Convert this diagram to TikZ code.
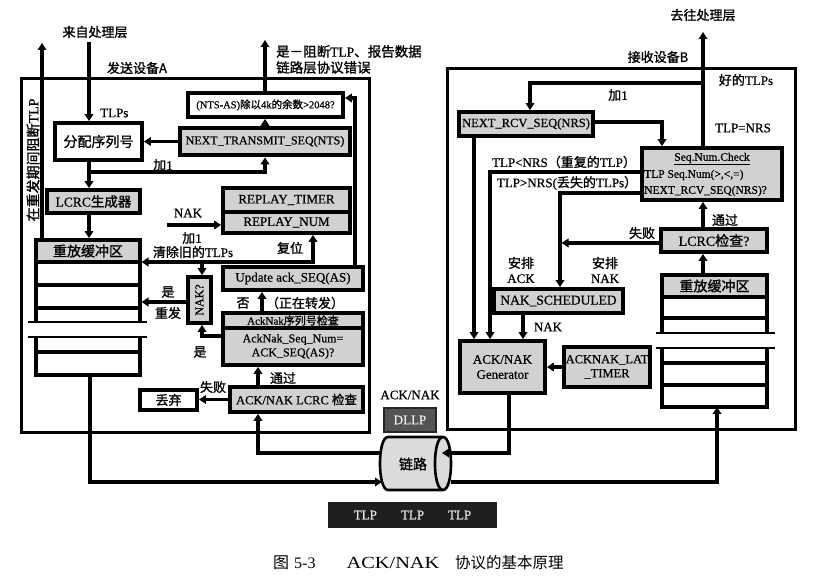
\documentclass[tikz,border=0pt]{standalone}
\usepackage{fontspec}
\setmainfont{Liberation Serif}[FakeBold=0.6]
\newfontfamily\cjk{Noto Sans CJK SC}[FakeBold=1.2]
\newfontfamily\capcjk{Noto Sans CJK SC}
\newfontfamily\capfont{Liberation Serif}
\newcommand{\zh}[1]{{\cjk #1}}
\newcommand{\fs}[2]{\fontsize{#1}{#2}\selectfont}
\usetikzlibrary{arrows.meta}
\definecolor{boxgray}{gray}{0.82}
\definecolor{dllpfill}{gray}{0.33}
\definecolor{linkfill}{gray}{0.86}
\definecolor{barfill}{gray}{0.12}
\begin{document}
\begin{tikzpicture}[x=1pt,y=-1pt,
  every node/.style={font=\fs{13}{15}},
  outer/.style={draw, line width=3pt, inner sep=0pt},
  gbox/.style={draw, line width=3.8pt, fill=boxgray, inner sep=1pt},
  wbox/.style={gbox, fill=white},
  lbl/.style={inner sep=0pt},
  arr/.style={line width=3.2pt, -{Triangle[length=7pt,width=8.5pt]}},
  darr/.style={line width=3.2pt, {Triangle[length=7pt,width=8.5pt]}-{Triangle[length=7pt,width=8.5pt]}},
  buf/.style={line width=3.3pt},
  thinbuf/.style={line width=2.2pt},
]
\useasboundingbox[fill=white] (0,0) rectangle (820,577);

% ---------------- outer device boxes
\node[outer, minimum width=348pt, minimum height=354pt] (devA) at (195,256) {};
\node[outer, minimum width=348pt, minimum height=361pt] (devB) at (621,249.5) {};

% ---------------- sender A nodes
\node[wbox, minimum width=87pt, minimum height=37pt, font=\fs{14}{16}] (assign) at (98.5,141.5) {\zh{分配序列号}};
\node[gbox, line width=4.8pt, minimum width=170pt, minimum height=27pt, font=\fs{12}{14}] (nts) at (265,141.5) {NEXT\_TRANSMIT\_SEQ(NTS)};
\node[wbox, minimum width=155pt, minimum height=24pt, font=\fs{10.5}{12}] (ntsas) at (265.5,105) {(NTS-AS)\zh{除以}4k\zh{的余数}>2048?};
\node[gbox, minimum width=93pt, minimum height=23pt, font=\fs{13.5}{15}] (lcrcgen) at (93.5,201.5) {LCRC\zh{生成器}};
\node[gbox, minimum width=127pt, minimum height=24pt, font=\fs{13}{15}] (rtimer) at (286.5,200) {REPLAY\_TIMER};
\node[gbox, minimum width=127pt, minimum height=21pt, font=\fs{13}{15}] (rnum) at (286.5,222.5) {REPLAY\_NUM};

% replay buffer A
\node[gbox, minimum width=104pt, minimum height=22pt, font=\fs{14}{16}] (bufA) at (88,251) {\zh{重放缓冲区}};
\draw[buf] (36,262) -- (36,322) (140,262) -- (140,322)
           (36,285) -- (140,285) (36,308) -- (140,308)
           (36,337) -- (36,375) -- (140,375) -- (140,337)
           (36,352) -- (140,352);
\draw[thinbuf] (28,322) -- (147,322) (28,337) -- (147,337);
\coordinate (bufAbot) at (90,375);

\node[gbox, minimum width=23pt, minimum height=46pt] (nakq) at (199.5,300) {};
\node[lbl, rotate=90, font=\fs{12}{14}] (nakqt) at (nakq.center) {NAK?};
\node[gbox, minimum width=140pt, minimum height=23pt, font=\fs{13}{15}] (update) at (293,278.5) {Update ack\_SEQ(AS)};
\node[gbox, minimum width=140pt, minimum height=15pt, font=\fs{11}{12}] (akhead) at (293,320.5) {AckNak\zh{序列号检查}};
\node[gbox, minimum width=140pt, minimum height=37pt, align=center, font=\fs{12}{14}] (akbody) at (293,346.5) {AckNak\_Seq\_Num=\\ACK\_SEQ(AS)?};
\node[gbox, minimum width=133pt, minimum height=25pt, font=\fs{12.5}{14}] (lcrcchk) at (296.5,399.5) {ACK/NAK LCRC \zh{检查}};
\node[wbox, minimum width=57pt, minimum height=20pt, font=\fs{13}{15}] (drop) at (168.5,400) {\zh{丢弃}};

% ---------------- receiver B nodes
\node[gbox, minimum width=134pt, minimum height=24pt, font=\fs{12.5}{14}] (nrs) at (526,124) {NEXT\_RCV\_SEQ(NRS)};
\node[gbox, minimum width=140pt, minimum height=52pt] (seq) at (712,174) {};
\node[lbl, font=\fs{11.5}{13}] (seqt1) at (712,159) {\underline{Seq.Num.Check}};
\node[lbl, anchor=west, font=\fs{11.5}{13}] (seqt2) at (644,175) {TLP Seq.Num(>,<,=)};
\node[lbl, anchor=west, font=\fs{11.5}{13}] (seqt3) at (644,191) {NEXT\_RCV\_SEQ(NRS)?};
\node[gbox, minimum width=106pt, minimum height=23pt, font=\fs{14}{16}] (lcrcB) at (714,240.5) {LCRC\zh{检查}?};
\node[gbox, minimum width=129pt, minimum height=24pt, font=\fs{13.5}{15}] (naksch) at (558.5,301) {NAK\_SCHEDULED};
\node[gbox, minimum width=85pt, minimum height=52pt, align=center, font=\fs{13}{15}] (gen) at (502.5,367) {ACK/NAK\\Generator};
\node[gbox, minimum width=86pt, minimum height=40pt, align=center, font=\fs{12.5}{14}] (lat) at (607,367) {ACKNAK\_LAT\\\_TIMER};

% replay buffer B
\node[gbox, minimum width=105pt, minimum height=22pt, font=\fs{14}{16}] (bufB) at (714.5,286) {\zh{重放缓冲区}};
\draw[buf] (662,297) -- (662,333) (767,297) -- (767,333)
           (662,318) -- (767,318)
           (662,348) -- (662,407) -- (767,407) -- (767,348)
           (662,363) -- (767,363) (662,385) -- (767,385);
\draw[thinbuf] (656,333) -- (775,333) (656,348) -- (775,348);
\coordinate (bufBbot) at (717,407);

% ---------------- link, DLLP, TLP bar
\draw[line width=2.6pt, fill=linkfill]
  (388,437) -- (443,437) .. controls (453.7,437) and (453.7,490) .. (443,490)
  -- (388,490) .. controls (377.3,490) and (377.3,437) .. (388,437) -- cycle;
\draw[line width=2.6pt] (443,437) .. controls (432.3,437) and (432.3,490) .. (443,490);
\node[lbl, font=\fs{14}{16}] (link) at (413,464) {\zh{链路}};
\coordinate (linkLa) at (381,453);
\coordinate (linkLb) at (382,482);
\coordinate (linkRa) at (442,453);
\coordinate (linkRb) at (451,482);

\node[lbl] (acknaklbl) at (410,395) {ACK/NAK};
\node[draw=black!85, line width=2pt, fill=dllpfill, text=white!85!gray, minimum width=52pt, minimum height=24pt] (dllp) at (410,420) {DLLP};
\node[fill=barfill, minimum width=169pt, minimum height=26pt, text=white!80!gray] (tlpbar) at (412.5,515) {TLP\hspace{24pt}TLP\hspace{24pt}TLP};

% ---------------- connectors, sender A
\coordinate (src) at (89,42);
\draw[arr] (src) -- (assign.north -| src);
\draw[arr] (assign.south -| src) -- (lcrcgen.north -| src);
\coordinate (inc) at (89,172);
\draw[arr] (inc) -- (nts.south |- inc) -- (nts.south);
\draw[arr] (nts.west) -- (assign.east |- nts.west);
\draw[arr] (nts.north) -- (ntsas.south -| nts.north);
\coordinate (err) at (265,40);
\draw[arr] (ntsas.north -| err) -- (err);
\draw[arr] (lcrcgen.south -| src) -- (bufA.north -| src);
\coordinate (blk) at (42,43);
\draw[arr] (bufA.north -| blk) -- (blk);
\coordinate (txA) at (90,482);
\draw[arr] (bufAbot) -- (txA) -- (linkLb);
\coordinate (rxA) at (258,453);
\draw[arr] (linkLa) -- (rxA) -- (rxA |- lcrcchk.south);
\draw[arr] (lcrcchk.north -| rxA) -- (akbody.south -| rxA);
\draw[arr] (lcrcchk.west) -- (drop.east |- lcrcchk.west);
\coordinate (akx) at (262,300);
\draw[arr] (akhead.north -| akx) -- (update.south -| akx);
\coordinate (isnak) at (202,336);
\draw[arr] (akbody.west |- isnak) -- (isnak) -- (nakq.south -| isnak);
\coordinate (resend) at (141.5,302);
\draw[arr] (nakq.west |- resend) -- (resend);
\coordinate (bufAr) at (141.5,262);
\coordinate (clr) at (313,262);
\draw[darr] (bufAr) -- (clr) -- (clr |- rnum.south);
\coordinate (clrj) at (202,262);
\draw[arr] (clrj) -- (nakq.north -| clrj);
\coordinate (nakin) at (167,225);
\draw[arr] (nakin) -- (rnum.west |- nakin);
\coordinate (upd) at (355,98);
\draw[arr] (update.north -| upd) -- (upd) -- (ntsas.east |- upd);

% ---------------- connectors, receiver B
\coordinate (up) at (703,32);
\draw[arr] (seq.north -| up) -- (up);
\coordinate (inc1) at (703,83);
\coordinate (inc2) at (530,83);
\draw[arr] (inc1) -- (inc2) -- (nrs.north -| inc2);
\coordinate (eq) at (662,122);
\draw[arr] (nrs.east |- eq) -- (eq) -- (seq.north -| eq);
\coordinate (lt) at (490,172);
\draw[arr] (seq.west |- lt) -- (lt) -- (gen.north -| lt);
\coordinate (gt) at (560,193);
\draw[arr] (seq.west |- gt) -- (gt) -- (naksch.north -| gt);
\coordinate (fail) at (561.5,243);
\draw[arr] (lcrcB.west |- fail) -- (fail);
\draw[arr] (lcrcB.north -| up) -- (seq.south -| up);
\draw[arr] (bufB.north -| up) -- (lcrcB.south -| up);
\coordinate (ackx) at (474,300);
\draw[arr] (nrs.south -| ackx) -- (gen.north -| ackx);
\coordinate (nkx) at (523,300);
\draw[arr] (naksch.south -| nkx) -- (gen.north -| nkx);
\draw[arr] (lat.west) -- (gen.east);
\coordinate (txB) at (509,453);
\draw[arr] (gen.south -| txB) -- (txB) -- (linkRa);
\coordinate (rxB) at (717,482);
\draw[arr] (linkRb) -- (rxB) -- (bufBbot);

% ---------------- labels, sender A
\node[lbl] (l1) at (95,32) {\zh{来自处理层}};
\node[lbl] (l2) at (137,68) {\zh{发送设备A}};
\node[lbl, anchor=west] (l3) at (100,113) {TLPs};
\node[lbl, anchor=north west, align=left, font=\fs{13.5}{16}] (l4) at (276,45) {\zh{是－阻断}TLP\zh{、报告数据}\\\zh{链路层协议错误}};
\node[lbl] (l5) at (163,165) {\zh{加}1};
\node[lbl] (l6) at (188,213) {NAK};
\node[lbl] (l7) at (192,238) {\zh{加}1};
\node[lbl] (l8) at (193,252) {\zh{清除旧的}TLPs};
\node[lbl] (l9) at (290,248) {\zh{复位}};
\node[lbl] (l10) at (168,292) {\zh{是}};
\node[lbl] (l11) at (168,313) {\zh{重发}};
\node[lbl] (l12) at (243,303) {\zh{否}};
\node[lbl] (l13) at (305,303) {\zh{（正在转发）}};
\node[lbl] (l14) at (200,352) {\zh{是}};
\node[lbl] (l15) at (283,378) {\zh{通过}};
\node[lbl] (l16) at (213,387) {\zh{失败}};
\node[lbl, rotate=90, font=\fs{14}{16}] (l17) at (33,160) {\zh{在重发期间阻断}TLP};

% ---------------- labels, receiver B
\node[lbl] (r1) at (703,15) {\zh{去往处理层}};
\node[lbl] (r2) at (658,57) {\zh{接收设备B}};
\node[lbl] (r3) at (746,80) {\zh{好的}TLPs};
\node[lbl] (r4) at (618,95) {\zh{加}1};
\node[lbl] (r5) at (743,128) {TLP=NRS};
\node[lbl] (r6) at (564,162) {TLP<NRS\zh{（重复的}TLP\zh{）}};
\node[lbl] (r7) at (567,183) {TLP>NRS(\zh{丢失的}TLPs\zh{）}};
\node[lbl] (r8) at (642,233) {\zh{失败}};
\node[lbl] (r9) at (725,220) {\zh{通过}};
\node[lbl, align=center] (r10) at (521,270) {\zh{安排}\\ACK};
\node[lbl, align=center] (r11) at (605,270) {\zh{安排}\\NAK};
\node[lbl] (r12) at (548,327) {NAK};

% ---------------- caption
\node[lbl, anchor=west, font=\capfont\fs{16}{18}] (cap1) at (273,563) {{\capcjk 图}\hspace{5pt}5-3};
\node[lbl, font=\capfont\fs{17}{19}] (cap2) at (393,563) {\scalebox{1.2}[1]{ACK/NAK}};
\node[lbl, anchor=west, font=\fs{15.5}{17}] (cap3) at (455,563) {{\capcjk 协议的基本原理}};
\end{tikzpicture}
\end{document}
